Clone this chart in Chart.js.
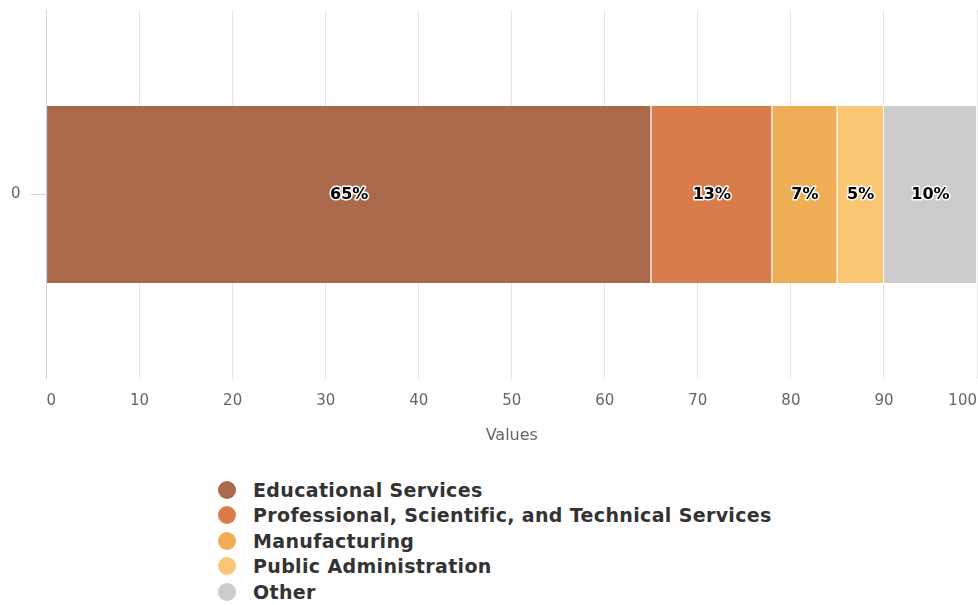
<!DOCTYPE html>
<html>
<head>
<meta charset="utf-8">
<script src="https://cdn.jsdelivr.net/npm/chart.js@4/dist/chart.umd.min.js"></script>
<style>
  html, body { margin: 0; padding: 0; background: #fff; overflow: hidden; width: 978px; height: 605px; }
  #wrap { position: absolute; left: 0; top: 0; width: 978px; height: 445px; }
  #legend { position: absolute; left: 218px; top: 477px; font-family: "DejaVu Sans", Verdana, sans-serif; font-weight: bold; font-size: 19px; letter-spacing: 0.35px; color: #333; }
  #legend .item { height: 25.5px; display: flex; align-items: center; white-space: nowrap; }
  #legend .dot { width: 18px; height: 18px; border-radius: 50%; margin-right: 17px; }
</style>
</head>
<body>
<div id="wrap"><canvas id="myChart"></canvas></div>
<div id="legend"></div>
<script>
// chart data
const categories = ['0'];
const seriesNames = ['Educational Services', 'Professional, Scientific, and Technical Services', 'Manufacturing', 'Public Administration', 'Other'];
const seriesValues = [65, 13, 7, 5, 10];
const seriesColors = ['#a9694a', '#d97c4c', '#efad56', '#f9c674', '#cccccc'];
const xTicks = [0, 10, 20, 30, 40, 50, 60, 70, 80, 90, 100];
// chart data

const labelPlugin = {
  id: 'pctLabels',
  afterDatasetsDraw(chart) {
    const ctx = chart.ctx;
    ctx.save();
    ctx.font = 'bold 16px "DejaVu Sans", Verdana, sans-serif';
    ctx.textAlign = 'center';
    ctx.textBaseline = 'middle';
    ctx.lineJoin = 'round';
    chart.data.datasets.forEach((ds, i) => {
      const bar = chart.getDatasetMeta(i).data[0];
      const x = (bar.x + bar.base) / 2;
      const text = ds.data[0] + '%';
      ctx.lineWidth = 3;
      ctx.strokeStyle = '#fff';
      ctx.strokeText(text, x, bar.y);
      ctx.fillStyle = '#000';
      ctx.fillText(text, x, bar.y);
    });
    ctx.restore();
  }
};

const ctx = document.getElementById('myChart').getContext('2d');
const myChart = new Chart(ctx, {
  type: 'bar',
  data: {
    labels: categories,
    datasets: seriesNames.map((name, i) => ({
      label: name,
      data: [seriesValues[i]],
      backgroundColor: seriesColors[i],
      borderColor: '#ffffff',
      borderWidth: {top: 0, right: 1, bottom: 0, left: 0},
      borderSkipped: false,
      categoryPercentage: 0.8,
      barPercentage: 0.6
    }))
  },
  options: {
    indexAxis: 'y',
    responsive: true,
    maintainAspectRatio: false,
    animation: false,
    layout: { padding: { top: 10, left: 1, right: 1, bottom: 0 } },
    plugins: {
      legend: { display: false },
      tooltip: { enabled: false }
    },
    scales: {
      x: {
        stacked: true,
        min: 0,
        max: 100,
        afterBuildTicks: axis => { axis.ticks = xTicks.map(v => ({ value: v })); },
        afterFit: axis => { axis.paddingLeft = 0; axis.paddingRight = 0; },
        grid: {
          color: c => (c.tick && c.tick.value === 0) ? '#ccd6eb' : '#e6e6e6',
          drawTicks: false
        },
        border: { display: false },
        ticks: {
          color: '#666',
          padding: 13,
          align: 'inner',
          font: { family: '"DejaVu Sans", Verdana, sans-serif', size: 15 }
        },
        title: {
          display: true,
          text: 'Values',
          color: '#666',
          padding: { top: 3, bottom: 0 },
          font: { family: '"DejaVu Sans", Verdana, sans-serif', size: 16 }
        }
      },
      y: {
        stacked: true,
        afterFit: axis => { axis.paddingTop = 0; axis.paddingBottom = 0; },
        grid: { display: true, offset: false, drawOnChartArea: false, color: '#ccd6eb', tickLength: 16 },
        border: { color: '#ccd6eb' },
        ticks: {
          color: '#666',
          padding: 10,
          font: { family: '"DejaVu Sans", Verdana, sans-serif', size: 15 }
        }
      }
    }
  },
  plugins: [labelPlugin]
});

// html legend
const legend = document.getElementById('legend');
myChart.data.datasets.forEach(ds => {
  const row = document.createElement('div');
  row.className = 'item';
  const dot = document.createElement('span');
  dot.className = 'dot';
  dot.style.background = ds.backgroundColor;
  const txt = document.createElement('span');
  txt.textContent = ds.label;
  row.appendChild(dot);
  row.appendChild(txt);
  legend.appendChild(row);
});
</script>
</body>
</html>
